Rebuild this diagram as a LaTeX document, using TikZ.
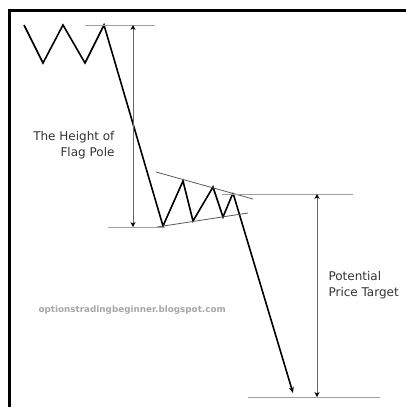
\documentclass[tikz,border=0pt]{standalone}
\usepackage{fontspec}
\setmainfont{DejaVu Sans}
\usetikzlibrary{arrows.meta}
\begin{document}
\begin{tikzpicture}[x=1pt, y=-1pt,
    price/.style={line width=1.6pt, line join=miter},
    level/.style={gray!75, line width=0.9pt},
    measure/.style={{Stealth[black,length=5pt,width=5pt]}-{Stealth[black,length=5pt,width=5pt]}, gray!80!black, line width=0.9pt},
    trend/.style={gray!70!black, line width=0.8pt},
    label/.style={font=\fontsize{12}{16}\selectfont, text=black!80}]
\useasboundingbox (0,0) rectangle (406,407);

% Khung
\draw[line width=3pt] (9.5,407) -- (9.5,10.5) -- (406,10.5);

% Cac diem cua gia
\coordinate (z0) at (24,25);
\coordinate (z1) at (43,63);
\coordinate (z2) at (63,25);
\coordinate (z3) at (85,63);
\coordinate (top) at (104,25);
\coordinate (low) at (163,226);
\coordinate (f1) at (183,181);
\coordinate (f2) at (193,221);
\coordinate (f3) at (213,187);
\coordinate (f4) at (223,217);
\coordinate (brk) at (233,193);
\coordinate (target) at (293,393);

% Duong gia
\draw[price] (z0) -- (z1) -- (z2) -- (z3) -- (top) -- (low) -- (f1) -- (f2) -- (f3) -- (f4) -- (brk);
\draw[price, -{Stealth[length=6pt,width=5pt]}] (brk) -- (target);

% Duong xu huong cua co
\draw[trend] (156,172) -- (253,199);
\draw[trend] (157,227) -- (248,213);

% Cac muc ngang
\draw[level] (85,25) -- (155,25);
\draw[level] (108,227) -- (165,227);
\draw[level] (222,194) -- (353,194);
\draw[level] (248,397) -- (380,397);

% Do chieu cao
\draw[measure] (133,25) -- (133,227);
\draw[measure] (317,194) -- (317,397);

% Nhan
\node[label, align=right, anchor=east] (pole) at (118,145) {The Height of\\Flag Pole};
\node[label, align=left, anchor=west] (goal) at (325,285) {Potential\\Price Target};
\node[font=\bfseries\fontsize{8.8}{10}\selectfont, text=gray!70, anchor=west] (site) at (35,310) {optionstradingbeginner.blogspot.com};
\end{tikzpicture}
\end{document}
